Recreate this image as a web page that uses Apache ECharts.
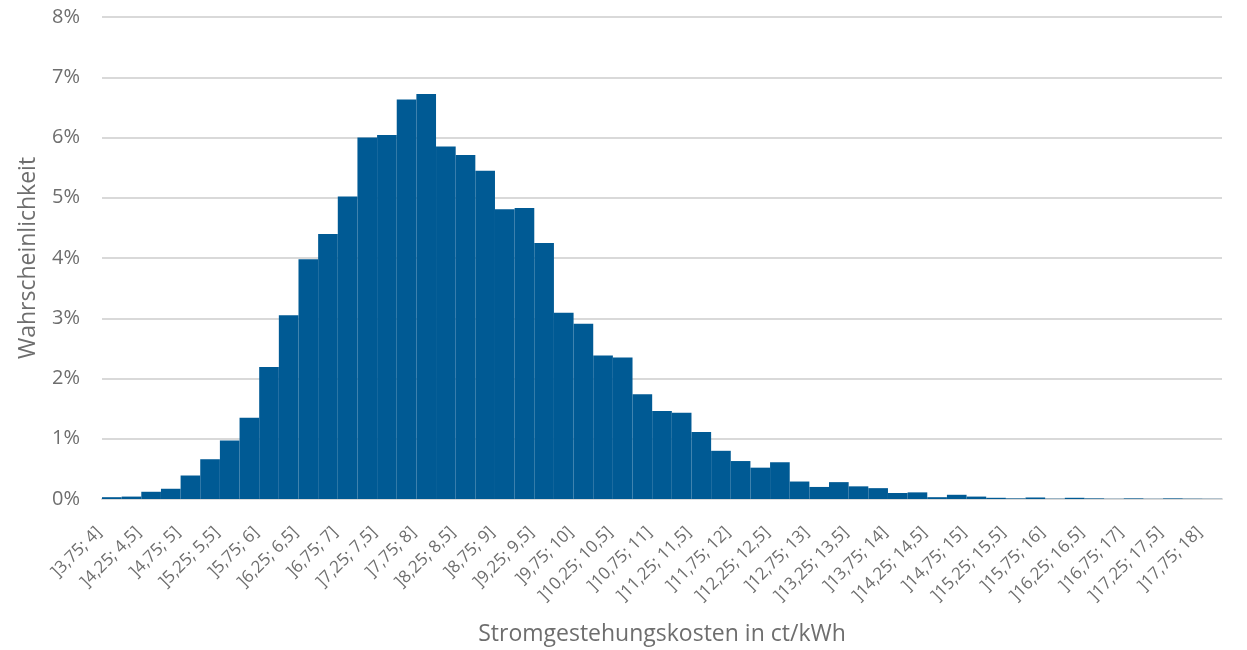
<!DOCTYPE html>
<html>
<head>
<meta charset="utf-8">
<script src="https://cdn.jsdelivr.net/npm/echarts@6/dist/echarts.min.js"></script>
<style>html,body{margin:0;padding:0;background:#fff}#c{width:1247px;height:650px}</style>
</head>
<body>
<div id="c"></div>
<script>
const categories = [
"]3,75; 4]","]4; 4,25]","]4,25; 4,5]","]4,5; 4,75]","]4,75; 5]","]5; 5,25]","]5,25; 5,5]","]5,5; 5,75]",
"]5,75; 6]","]6; 6,25]","]6,25; 6,5]","]6,5; 6,75]","]6,75; 7]","]7; 7,25]","]7,25; 7,5]","]7,5; 7,75]",
"]7,75; 8]","]8; 8,25]","]8,25; 8,5]","]8,5; 8,75]","]8,75; 9]","]9; 9,25]","]9,25; 9,5]","]9,5; 9,75]",
"]9,75; 10]","]10; 10,25]","]10,25; 10,5]","]10,5; 10,75]","]10,75; 11]","]11; 11,25]","]11,25; 11,5]","]11,5; 11,75]",
"]11,75; 12]","]12; 12,25]","]12,25; 12,5]","]12,5; 12,75]","]12,75; 13]","]13; 13,25]","]13,25; 13,5]","]13,5; 13,75]",
"]13,75; 14]","]14; 14,25]","]14,25; 14,5]","]14,5; 14,75]","]14,75; 15]","]15; 15,25]","]15,25; 15,5]","]15,5; 15,75]",
"]15,75; 16]","]16; 16,25]","]16,25; 16,5]","]16,5; 16,75]","]16,75; 17]","]17; 17,25]","]17,25; 17,5]","]17,5; 17,75]",
"]17,75; 18]"
];
const probability = [
0.03,0.04,0.12,0.17,0.39,0.66,0.97,1.35,
2.19,3.05,3.98,4.40,5.02,6.00,6.04,6.63,
6.72,5.85,5.71,5.45,4.81,4.83,4.25,3.09,
2.91,2.38,2.35,1.74,1.46,1.43,1.11,0.80,
0.63,0.52,0.61,0.29,0.20,0.28,0.21,0.18,
0.10,0.11,0.03,0.07,0.04,0.02,0.01,0.025,
0.005,0.02,0.01,0.003,0.01,0.003,0.01,0.005,
0.003
];
const yTicks = [0,1,2,3,4,5,6,7,8];

const chart = echarts.init(document.getElementById('c'));
const font = '"Open Sans", "Noto Sans", sans-serif';
chart.setOption({
  animation: false,
  grid: {left: 102, right: 25, top: 17, bottom: 151, containLabel: false, outerBoundsMode: 'none'},
  xAxis: {
    type: 'category',
    data: categories,
    name: 'Stromgestehungskosten in ct/kWh',
    nameLocation: 'middle',
    nameGap: 124,
    nameTextStyle: {color: '#6e6e6e', fontSize: 23, fontFamily: font},
    axisLine: {show: true, lineStyle: {color: '#d9d9d9', width: 2}},
    axisTick: {show: false},
    axisLabel: {interval: 1, rotate: 45, color: '#6e6e6e', fontSize: 17, fontFamily: font, margin: 18, padding: [0, 18, 0, 0]},
    splitLine: {show: false}
  },
  yAxis: {
    type: 'value',
    min: yTicks[0], max: yTicks[yTicks.length-1], interval: 1,
    name: 'Wahrscheinlichkeit',
    nameLocation: 'middle',
    nameGap: 62,
    nameTextStyle: {color: '#6e6e6e', fontSize: 23, fontFamily: font},
    axisLine: {show: false},
    axisTick: {show: false},
    axisLabel: {color: '#6e6e6e', fontSize: 20, fontFamily: font, margin: 22, formatter: v => v + '%'},
    splitLine: {lineStyle: {color: '#d9d9d9', width: 2}}
  },
  series: [{
    type: 'bar',
    data: probability,
    barCategoryGap: '0%',
    itemStyle: {color: '#005a94'}
  }]
});
</script>
</body>
</html>
